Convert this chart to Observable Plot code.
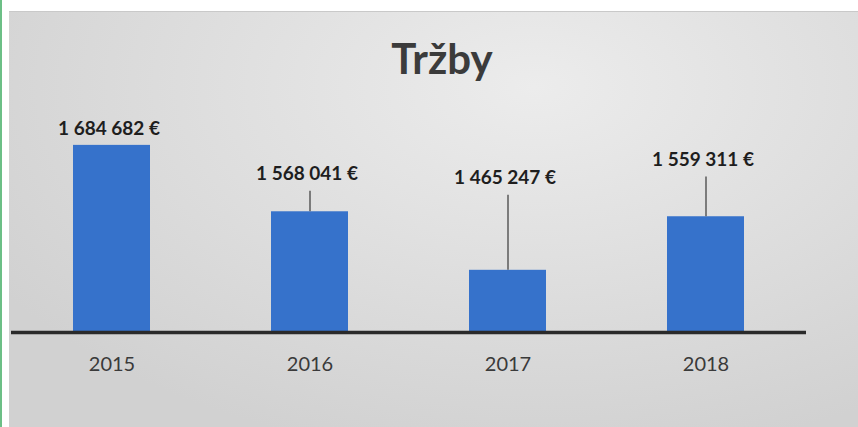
<!DOCTYPE html>
<html>
<head>
<meta charset="utf-8">
<script src="https://cdn.jsdelivr.net/npm/d3@7"></script>
<script src="https://cdn.jsdelivr.net/npm/@observablehq/plot@0.6"></script>
<style>
  html, body { margin: 0; padding: 0; width: 858px; height: 427px; overflow: hidden; background: #ffffff; }
  #edge { position: absolute; left: 0; top: 0; width: 2px; height: 427px; background: #6cbf86; }
  #panel { position: absolute; left: 9px; top: 11px; width: 849px; height: 416px;
    background: radial-gradient(ellipse 75% 90% at 62% 18%, #ececec 0%, #e0e0e0 45%, #d1d1d1 100%);
    border-top: 1px solid #c9c9c9; }
  #title { position: absolute; left: 0; width: 884px; top: 33px; text-align: center;
    font-family: Lato, "Open Sans", sans-serif; font-weight: 700; font-size: 42px; color: #3b3b3b; line-height: 50px; }
  #chart { position: absolute; left: 0; top: 100px; }
</style>
</head>
<body>
<div id="edge"></div>
<div id="panel"></div>
<div id="title">Tržby</div>
<div id="chart"></div>
<script>
const years = ["2015", "2016", "2017", "2018"];
const revenue = [1684682, 1568041, 1465247, 1559311];
const valueLabels = ["1 684 682 €", "1 568 041 €", "1 465 247 €", "1 559 311 €"];
// where each data label sits, in revenue units (labels were moved by hand in the original)
const labelAt = [1714000, 1634000, 1627000, 1659000];
const hasLeader = [false, true, true, true];
const yMin = 1356000;
const yMax = 1760000;

const data = years.map((y, i) => ({
  year: y, value: revenue[i], label: valueLabels[i], labelAt: labelAt[i], leader: hasLeader[i]
}));

const chart = Plot.plot({
  width: 858,
  height: 300,
  marginLeft: 11,
  marginRight: 52,
  marginTop: 2,
  marginBottom: 68,
  style: { background: "transparent", fontFamily: "Lato, 'Open Sans', sans-serif" },
  x: { domain: years, paddingInner: 0.61, paddingOuter: 0.305, label: null },
  y: { domain: [yMin, yMax], axis: null },
  marks: [
    Plot.barY(data, { x: "year", y1: () => yMin, y2: "value", fill: "#3672cb" }),
    Plot.ruleX(data.filter(d => d.leader), { x: "year", y1: "labelAt", y2: "value", insetTop: 17, stroke: "#5a5a5a", strokeWidth: 1.5 }),
    Plot.text(data, { x: "year", y: "labelAt", text: "label", dx: -3, fontSize: 19, fontWeight: 700, fill: "#1e1e1e" }),
    Plot.ruleY([yMin], { stroke: "#2a2a2a", strokeWidth: 3.5 }),
    Plot.axisX({ tickSize: 0, tickPadding: 24, fontSize: 20, color: "#3a3a3a", label: null })
  ]
});
document.getElementById("chart").appendChild(chart);
</script>
</body>
</html>
